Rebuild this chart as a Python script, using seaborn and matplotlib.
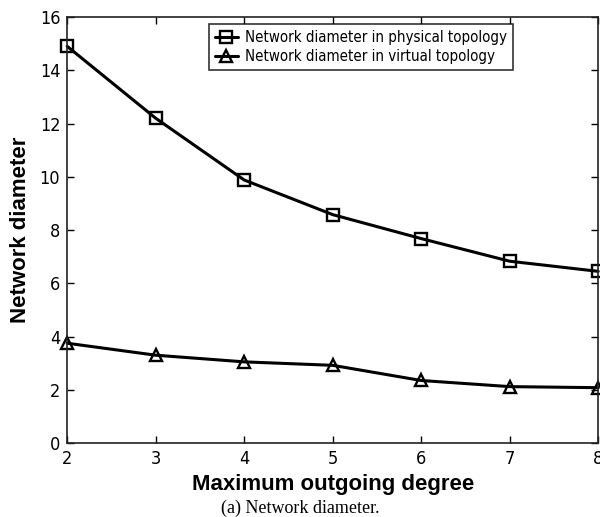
import matplotlib
matplotlib.use("Agg")
import matplotlib.pyplot as plt
import seaborn as sns
import pandas as pd

degree = [2, 3, 4, 5, 6, 7, 8]
physical_diameter = [14.9, 12.2, 9.88, 8.58, 7.68, 6.83, 6.45]
virtual_diameter = [3.75, 3.3, 3.05, 2.92, 2.35, 2.12, 2.08]

label_phys = "Network diameter in physical topology"
label_virt = "Network diameter in virtual topology"

df = pd.concat([
    pd.DataFrame({"degree": degree, "diameter": physical_diameter, "series": label_phys}),
    pd.DataFrame({"degree": degree, "diameter": virtual_diameter, "series": label_virt}),
])

sns.set_style("ticks")
plt.rcParams['font.family'] = ['DejaVu Sans']
plt.rcParams['font.stretch'] = 'condensed'
plt.rcParams['text.color'] = 'black'
plt.rcParams['axes.labelcolor'] = 'black'
plt.rcParams['xtick.color'] = 'black'
plt.rcParams['ytick.color'] = 'black'

fig = plt.figure(figsize=(6.0, 5.17), dpi=100)
ax = fig.add_axes([0.112, 0.143, 0.885, 0.824])

sns.lineplot(data=df, x="degree", y="diameter", style="series", markers={label_phys: "s", label_virt: "^"},
             dashes=False, color="black", linewidth=2.2, markersize=9, markeredgewidth=1.7,
             markerfacecolor="none", markeredgecolor="black", ax=ax, clip_on=False)

ax.set_xlim(2, 8)
ax.set_ylim(0, 16)
ax.set_xticks(degree)
ax.set_yticks(range(0, 17, 2))
ax.tick_params(direction="in", top=True, right=True, labelsize=13, length=5, width=1, pad=5)
for s in ax.spines.values():
    s.set_linewidth(1.2)
    s.set_color("#222222")

bold = ["Liberation Sans", "DejaVu Sans"]
ax.set_xlabel("Maximum outgoing degree", fontsize=16, fontweight="bold", labelpad=4,
              family=bold, fontstretch="normal")
ax.set_ylabel("Network diameter", fontsize=16, fontweight="bold", labelpad=6,
              family=bold, fontstretch="normal")

leg = ax.legend(title=None, loc="upper right", bbox_to_anchor=(0.84, 0.984), borderaxespad=0,
                fontsize=10.8, frameon=True, fancybox=False, edgecolor="black", handlelength=1.5,
                borderpad=0.4, labelspacing=0.3, handletextpad=0.5)
leg.get_frame().set_linewidth(1.2)

fig.text(0.5, 0.017, "(a) Network diameter.", ha="center", va="center",
         fontsize=13, family=["Liberation Serif", "DejaVu Serif"], fontstretch="normal")

fig.savefig("out.png", dpi=100)
